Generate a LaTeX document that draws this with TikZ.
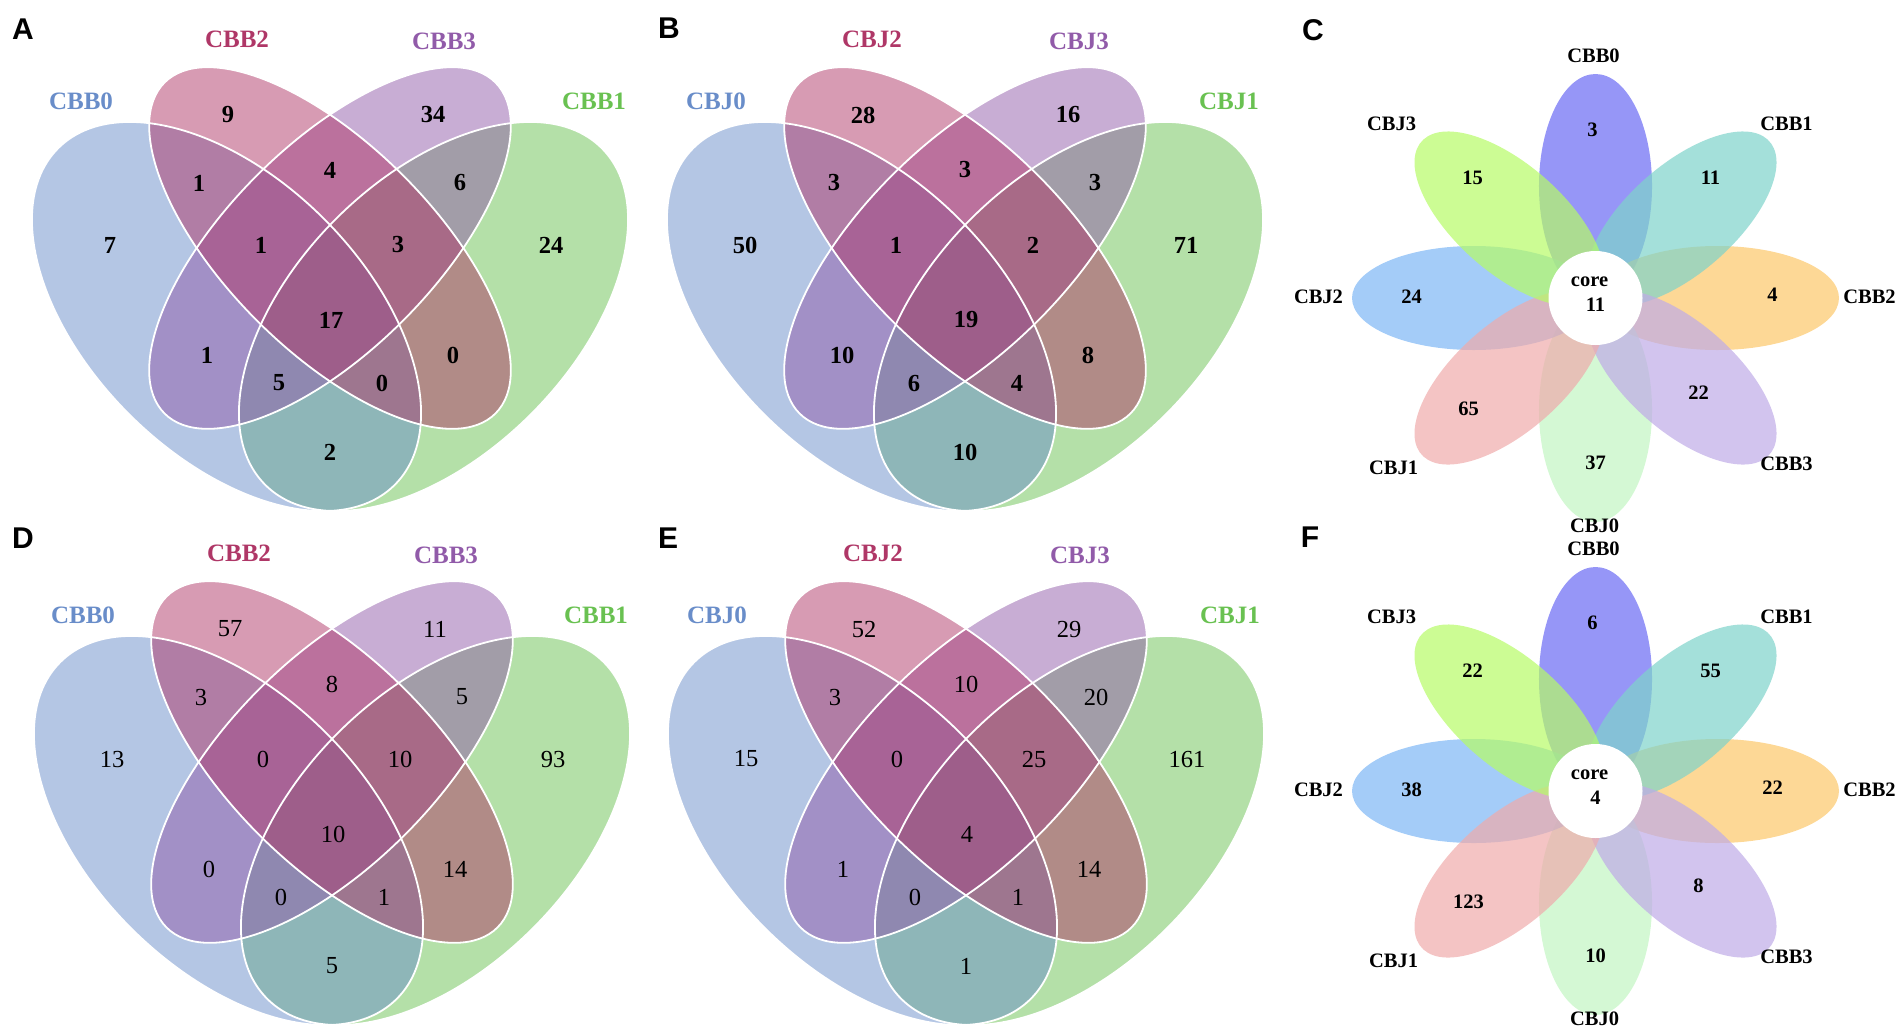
\documentclass[tikz,border=0pt]{standalone}
\usepackage{fontspec}
\setmainfont{Liberation Serif}
\newfontfamily\panelfont{Liberation Sans}
\usepackage{tikz}

% set colours of the four-set diagrams
\definecolor{cbbzero}{RGB}{105,141,201}
\definecolor{cbbtwo}{RGB}{175,55,103}
\definecolor{cbbthree}{RGB}{145,91,169}
\definecolor{cbbone}{RGB}{105,193,81}
% petal colours of the flower diagrams
\definecolor{petBBzero}{RGB}{106,106,244}
\definecolor{petBBone}{RGB}{126,211,202}
\definecolor{petBBtwo}{RGB}{252,199,105}
\definecolor{petBBthree}{RGB}{191,171,231}
\definecolor{petBJzero}{RGB}{194,245,194}
\definecolor{petBJone}{RGB}{239,171,171}
\definecolor{petBJtwo}{RGB}{125,182,245}
\definecolor{petBJthree}{RGB}{182,251,102}

\tikzset{
	vennfill/.style={fill opacity=0.5},
	rim/.style={draw=white, line width=1.8pt},
	setname/.style={font=\fontsize{25}{30}\selectfont\bfseries},
	boldnum/.style={font=\fontsize{24.5}{28}\selectfont\bfseries},
	thinnum/.style={font=\fontsize{24.5}{28}\selectfont},
	panel/.style={font=\fontsize{30}{34}\selectfont\panelfont\bfseries},
	petal/.style={fill opacity=0.7},
	petname/.style={font=\fontsize{20.5}{24}\selectfont\bfseries},
}

\def\vennshapes{%
	\fill[cbbone, vennfill, shift={(103.5,-68.5)}, rotate=45] (0,0) ellipse (238 and 138);
	\fill[cbbzero, vennfill, shift={(-103.5,-68.5)}, rotate=-45] (0,0) ellipse (238 and 138);
	\fill[cbbthree, vennfill, rotate=45] (0,0) ellipse (234 and 103);
	\fill[cbbtwo, vennfill, rotate=-45] (0,0) ellipse (234 and 103);
	\draw[rim, shift={(103.5,-68.5)}, rotate=45] (0,0) ellipse (238 and 138);
	\draw[rim, shift={(-103.5,-68.5)}, rotate=-45] (0,0) ellipse (238 and 138);
	\draw[rim, rotate=45] (0,0) ellipse (234 and 103);
	\draw[rim, rotate=-45] (0,0) ellipse (234 and 103);
}

\def\flowershapes{%
	\begin{scope}[xscale=1.087]
		\foreach \ang/\col in {90/petBBzero, 0/petBBtwo, -90/petBJzero, 180/petBJtwo,
			45/petBBone, -45/petBBthree, -135/petBJone, 135/petBJthree}
			\fill[\col, petal, rotate=\ang] (112,0) ellipse (112 and 52);
	\end{scope}
	\fill[white] (0,0) circle (47);
}

\begin{document}
\begin{tikzpicture}[x=1pt, y=1pt]
	\useasboundingbox (0,0) rectangle (1904,-1029);

	%%%%% A %%%%%
	\node[panel] (pA) at (23,-29) {A};
	\begin{scope}[shift={(330,-248)}]
		\vennshapes
		\foreach \nm/\x/\y/\val in {p0/-220/3/7, p2/-102/133/9, p3/103/133/34, p1/221/3/24,
			p02/-131/65/1, p23/0/78/4, p31/130/65/6, p023/-69/3/1, p231/68/3/3, pall/1/-72/17,
			p03/-123/-107/1, p21/123/-107/0, p031/-51/-135/5, p021/52/-135/0, p01/0/-204/2}
			\node[boldnum] (A\nm) at (\x,\y) {\val};
		\node[setname, text=cbbzero] (ACBB0) at (-249,147) {CBB0};
		\node[setname, text=cbbtwo] (ACBB2) at (-93,209) {CBB2};
		\node[setname, text=cbbthree] (ACBB3) at (114,207) {CBB3};
		\node[setname, text=cbbone] (ACBB1) at (264,147) {CBB1};
	\end{scope}

	%%%%% B %%%%%
	\node[panel] (pB) at (669,-28) {B};
	\begin{scope}[shift={(965,-248)}]
		\vennshapes
		\foreach \nm/\x/\y/\val in {p0/-220/3/50, p2/-102/133/28, p3/103/133/16, p1/221/3/71,
			p02/-131/65/3, p23/0/78/3, p31/130/65/3, p023/-69/3/1, p231/68/3/2, pall/1/-72/19,
			p03/-123/-107/10, p21/123/-107/8, p031/-51/-135/6, p021/52/-135/4, p01/0/-204/10}
			\node[boldnum] (B\nm) at (\x,\y) {\val};
		\node[setname, text=cbbzero] (BCBJ0) at (-249,147) {CBJ0};
		\node[setname, text=cbbtwo] (BCBJ2) at (-93,209) {CBJ2};
		\node[setname, text=cbbthree] (BCBJ3) at (114,207) {CBJ3};
		\node[setname, text=cbbone] (BCBJ1) at (264,147) {CBJ1};
	\end{scope}

	%%%%% D %%%%%
	\node[panel] (pD) at (23,-538) {D};
	\begin{scope}[shift={(332,-762)}]
		\vennshapes
		\foreach \nm/\x/\y/\val in {p0/-220/3/13, p2/-102/133/57, p3/103/133/11, p1/221/3/93,
			p02/-131/65/3, p23/0/78/8, p31/130/65/5, p023/-69/3/0, p231/68/3/10, pall/1/-72/10,
			p03/-123/-107/0, p21/123/-107/14, p031/-51/-135/0, p021/52/-135/1, p01/0/-204/5}
			\node[thinnum] (D\nm) at (\x,\y) {\val};
		\node[setname, text=cbbzero] (DCBB0) at (-249,147) {CBB0};
		\node[setname, text=cbbtwo] (DCBB2) at (-93,209) {CBB2};
		\node[setname, text=cbbthree] (DCBB3) at (114,207) {CBB3};
		\node[setname, text=cbbone] (DCBB1) at (264,147) {CBB1};
	\end{scope}

	%%%%% E %%%%%
	\node[panel] (pE) at (668,-538) {E};
	\begin{scope}[shift={(966,-762)}]
		\vennshapes
		\foreach \nm/\x/\y/\val in {p0/-220/3/15, p2/-102/133/52, p3/103/133/29, p1/221/3/161,
			p02/-131/65/3, p23/0/78/10, p31/130/65/20, p023/-69/3/0, p231/68/3/25, pall/1/-72/4,
			p03/-123/-107/1, p21/123/-107/14, p031/-51/-135/0, p021/52/-135/1, p01/0/-204/1}
			\node[thinnum] (E\nm) at (\x,\y) {\val};
		\node[setname, text=cbbzero] (ECBJ0) at (-249,147) {CBJ0};
		\node[setname, text=cbbtwo] (ECBJ2) at (-93,209) {CBJ2};
		\node[setname, text=cbbthree] (ECBJ3) at (114,207) {CBJ3};
		\node[setname, text=cbbone] (ECBJ1) at (264,147) {CBJ1};
	\end{scope}

	%%%%% C %%%%%
	\node[panel] (pC) at (1313,-30) {C};
	\begin{scope}[shift={(1595.5,-298)}]
		\flowershapes
		\foreach \nm/\x/\y in {CBB0/-2/242, CBB1/191/174, CBB2/274/1, CBB3/191/-166,
			CBJ0/-1/-228, CBJ1/-202/-170, CBJ2/-277/1, CBJ3/-204/174}
			\node[petname] (C\nm) at (\x,\y) {\nm};
		\foreach \nm/\x/\y/\val in {N/-3/168/3, NE/115/120/11, E/177/3/4, SE/103/-95/22,
			S/0/-165/37, SW/-127/-111/65, W/-184/1/24, NW/-123/120/15}
			\node[petname] (C\nm) at (\x,\y) {\val};
		\node[petname] (Ccore) at (-6,16) {core};
		\node[petname] (Ccorenum) at (0,-7) {11};
	\end{scope}

	%%%%% F %%%%%
	\node[panel] (pF) at (1310,-537) {F};
	\begin{scope}[shift={(1595.5,-791)}]
		\flowershapes
		\foreach \nm/\x/\y in {CBB0/-2/242, CBB1/191/174, CBB2/274/1, CBB3/191/-166,
			CBJ0/-1/-228, CBJ1/-202/-170, CBJ2/-277/1, CBJ3/-204/174}
			\node[petname] (F\nm) at (\x,\y) {\nm};
		\foreach \nm/\x/\y/\val in {N/-3/168/6, NE/115/120/55, E/177/3/22, SE/103/-95/8,
			S/0/-165/10, SW/-127/-111/123, W/-184/1/38, NW/-123/120/22}
			\node[petname] (F\nm) at (\x,\y) {\val};
		\node[petname] (Fcore) at (-6,16) {core};
		\node[petname] (Fcorenum) at (0,-7) {4};
	\end{scope}
\end{tikzpicture}
\end{document}
